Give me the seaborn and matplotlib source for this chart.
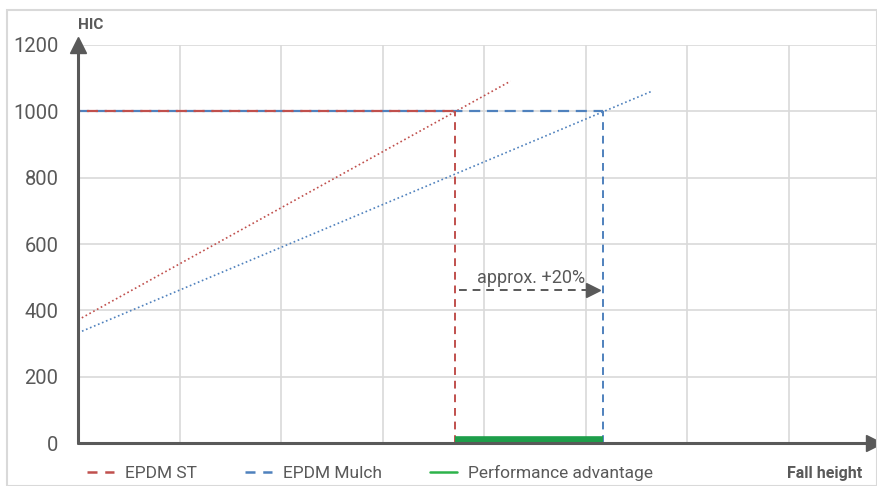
import matplotlib
matplotlib.use('Agg')
import matplotlib.pyplot as plt
import seaborn as sns
import pandas as pd
from matplotlib.lines import Line2D
from matplotlib.patches import Rectangle

# values (fall height in grid units, HIC)
height_st = [0, 4.26]
hic_st = [371, 1091]
height_mulch = [0, 5.655]
hic_mulch = [332, 1061]
hic_limit = 1000
crit_st = 3.71
crit_mulch = 5.17
yticks = [0, 200, 400, 600, 800, 1000, 1200]

red = '#C0504D'
blue = '#4F81BD'
green = '#1E9E4A'
grey = '#595959'

sns.set_style('white')
plt.rcParams['font.family'] = ['Roboto', 'DejaVu Sans']

fig = plt.figure(figsize=(8.78, 4.86), dpi=100)
ax = fig.add_axes([78 / 878, 1 - 443 / 486, 800 / 878, 398 / 486])

df_st = pd.DataFrame({'h': height_st, 'hic': hic_st})
df_mu = pd.DataFrame({'h': height_mulch, 'hic': hic_mulch})
sns.lineplot(data=df_st, x='h', y='hic', ax=ax, color=red, lw=1.2,
             linestyle=(0, (1, 1.6)))
sns.lineplot(data=df_mu, x='h', y='hic', ax=ax, color=blue, lw=1.2,
             linestyle=(0, (1, 1.6)))

# threshold and critical heights
ax.plot([0, crit_mulch], [hic_limit, hic_limit], color=blue, lw=1.6,
        linestyle=(0, (5, 3)), zorder=3)
ax.plot([0, crit_st], [hic_limit, hic_limit], color=red, lw=1.6,
        linestyle=(4, (5, 3)), zorder=3)
ax.plot([crit_st, crit_st], [0, hic_limit], color=red, lw=1.4,
        linestyle=(0, (4, 3)), zorder=3)
ax.plot([crit_mulch, crit_mulch], [0, hic_limit], color=blue, lw=1.4,
        linestyle=(0, (4, 3)), zorder=3)
ax.plot([crit_st, crit_mulch], [9, 9], color=green, lw=5.5,
        solid_capstyle='butt', zorder=4)

# +20% arrow
ax.plot([crit_st + 0.04, crit_mulch - 0.12], [461, 461], color=grey, lw=1.4,
        linestyle=(0, (4, 3)), zorder=4)
ax.plot([crit_mulch - 0.1], [461], marker='>', color=grey, markersize=10,
        zorder=4)
ax.text((crit_st + crit_mulch) / 2 + 0.02, 470, 'approx. +20%', color=grey,
        fontsize=13, ha='center', va='bottom')

ax.set_xlim(0, 7.88)
ax.set_ylim(0, 1200)
ax.set_xticks(range(1, 8))
ax.set_yticks(yticks)
ax.set_xticklabels([])
ax.tick_params(axis='y', length=0, labelsize=14.5, labelcolor=grey, pad=14)
ax.tick_params(axis='x', length=0)
ax.grid(True, color='#D9D9D9', lw=1.2)
ax.set_axisbelow(True)
for s in ax.spines.values():
    s.set_visible(False)
ax.set_xlabel('')
ax.set_ylabel('')

# axis arrows
ax.plot([0, 0], [0, 1195], color=grey, lw=2.2, clip_on=False, zorder=5)
ax.plot([0], [1200], marker='^', color=grey, markersize=11, clip_on=False,
        zorder=5)
ax.plot([0, 7.8], [0, 0], color=grey, lw=2.2, clip_on=False, zorder=5)
ax.plot([7.84], [0], marker='>', color=grey, markersize=11, clip_on=False,
        zorder=5)

fig.text(78 / 878, 1 - 25 / 486, 'HIC', fontsize=11, fontweight='bold',
         color=grey, va='center', family=['Liberation Sans Narrow', 'Roboto'])
fig.text(862 / 878, 1 - 473 / 486, 'Fall height', fontsize=11.5,
         fontweight='bold', color=grey, ha='right', va='center',
         family=['Liberation Sans Narrow', 'Roboto'])

handles = [
    Line2D([], [], color=red, lw=1.8, linestyle=(0, (4, 3.1))),
    Line2D([], [], color=blue, lw=1.8, linestyle=(0, (4, 3.1))),
    Line2D([], [], color='#2DB34A', lw=1.8),
]
labels = ['EPDM ST', 'EPDM Mulch', 'Performance advantage']
fig.legend(handles, labels, loc='center left', ncol=3, frameon=False,
           bbox_to_anchor=(71 / 878, 1 - 473 / 486), fontsize=12.5,
           labelcolor=grey, handlelength=1.6, columnspacing=2.75,
           handletextpad=0.6)

fig.patches.append(Rectangle((7 / 878, 0), 870 / 878, 1 - 10 / 486,
                             transform=fig.transFigure, fill=False,
                             edgecolor='#D9D9D9', lw=1.5))

fig.savefig('out.png', dpi=100)
